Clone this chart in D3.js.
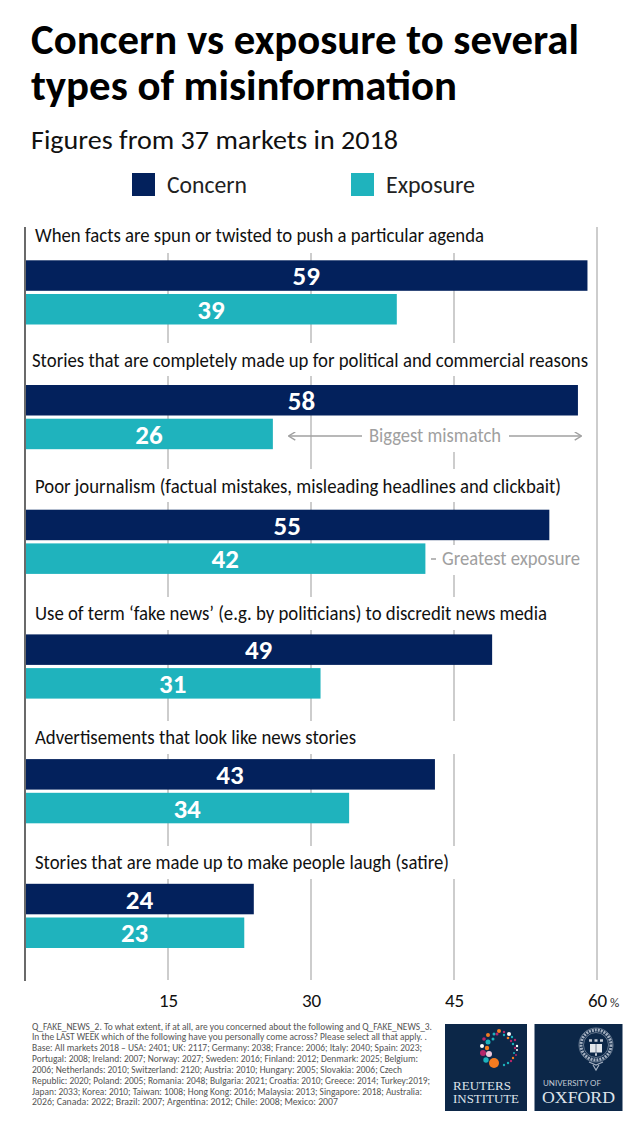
<!DOCTYPE html>
<html><head><meta charset="utf-8">
<script src="https://cdn.jsdelivr.net/npm/d3@7"></script>
<style>html,body{margin:0;padding:0;background:#fff}svg{display:block}text{font-family:Carlito,Calibri,Lato,sans-serif}</style>
</head><body><svg id="c" width="642" height="1128"></svg>
<script>
const categories=["When facts are spun or twisted to push a particular agenda","Stories that are completely made up for political and commercial reasons","Poor journalism (factual mistakes, misleading headlines and clickbait)","Use of term ‘fake news’ (e.g. by politicians) to discredit news media","Advertisements that look like news stories","Stories that are made up to make people laugh (satire)"];
const concern=[59,58,55,49,43,24];
const exposure=[39,26,42,31,34,23];
const tickValues=[15,30,45,60];
const seriesNames=["Concern","Exposure"];
const labelX=[35,32,35,35,35,35];
const labelW=[449,556,526,512,321,414];
const labelBase=[242,367,493,620,744,869];
const footnote=[["Q_FAKE_NEWS_2. To what extent, if at all, are you concerned about the following and Q_FAKE_NEWS_3.",400],["In the LAST WEEK which of the following have you personally come across? Please select all that apply. .",395],["Base: All markets 2018 – USA: 2401; UK: 2117; Germany: 2038; France: 2006; Italy: 2040; Spain: 2023;",390],["Portugal: 2008; Ireland: 2007; Norway: 2027; Sweden: 2016; Finland: 2012; Denmark: 2025; Belgium:",386],["2006; Netherlands: 2010; Switzerland: 2120; Austria: 2010; Hungary: 2005; Slovakia: 2006; Czech",370],["Republic: 2020; Poland: 2005; Romania: 2048; Bulgaria: 2021; Croatia: 2010; Greece: 2014; Turkey:2019;",398],["Japan: 2033; Korea: 2010; Taiwan: 1008; Hong Kong: 2016; Malaysia: 2013; Singapore: 2018; Australia:",390],["2026; Canada: 2022; Brazil: 2007; Argentina: 2012; Chile: 2008; Mexico: 2007",306]];
const NAVY="#03215c",TEAL="#1fb3bd",GRID="#c8c8c8",ANNO="#a0a0a0";

const svg=d3.select("#c");
const x=d3.scaleLinear().domain([0,60]).range([25,597]);
const rowY=d3.scaleLinear().domain([0,5]).range([260.3,883.8]);
const barH=30.5, teamOffset=33.7;
const T=(s,px,py,size,opt={})=>{const t=svg.append("text").attr("x",px).attr("y",py).attr("font-size",size).attr("fill",opt.fill||"#000").attr("font-weight",opt.weight||400).attr("text-anchor",opt.anchor||"start").text(s);
 if(opt.len)t.attr("textLength",opt.len).attr("lengthAdjust","spacingAndGlyphs");return t;};

T("Concern vs exposure to several",31,54,42,{weight:700,len:548});
T("types of misinformation",31,100,42,{weight:700,len:426});
T("Figures from 37 markets in 2018",31,149,27,{len:367,fill:"#111"});
[[132,167,80],[351,386,89]].forEach((p,i)=>{
 svg.append("rect").attr("x",p[0]).attr("y",173).attr("width",23).attr("height",23).attr("fill",i?TEAL:NAVY);
 T(seriesNames[i],p[1],193,24,{len:p[2],fill:"#222"});
});

// grid
svg.append("g").selectAll("line").data(tickValues).join("line")
 .attr("x1",d=>x(d)).attr("x2",d=>x(d)).attr("y1",d=>d==60?227:253).attr("y2",980)
 .attr("stroke",GRID).attr("stroke-width",1.8);
// white bands behind category labels hide the inner gridlines
svg.append("g").selectAll("rect").data(d3.range(1,6)).join("rect")
 .attr("x",x(0)+2).attr("width",x(60)-x(0)-4).attr("y",i=>labelBase[i]-(i<3?24:23)).attr("height",33).attr("fill","#fff");
// gaps behind annotations on the 45 line
svg.append("rect").attr("x",x(45)-3).attr("width",6).attr("y",415).attr("height",37).attr("fill","#fff");
svg.append("rect").attr("x",x(45)-3).attr("width",6).attr("y",545).attr("height",30).attr("fill","#fff");

svg.append("line").attr("x1",x(0)).attr("x2",x(0)).attr("y1",227).attr("y2",981).attr("stroke","#444").attr("stroke-width",1.6);

[[concern,NAVY,0],[exposure,TEAL,1]].forEach(([vals,col,k])=>{
 svg.append("g").selectAll("rect").data(vals).join("rect")
  .attr("x",x(0)+1).attr("y",(d,i)=>rowY(i)+k*teamOffset).attr("width",d=>x(d)-x(0)-1).attr("height",barH).attr("fill",col);
 svg.append("g").selectAll("text").data(vals).join("text")
  .attr("x",d=>(x(0)+x(d))/2).attr("y",(d,i)=>rowY(i)+k*teamOffset+24.8).attr("text-anchor","middle")
  .attr("font-size",27).attr("font-weight",700).attr("fill","#fff").text(d=>d);
});
categories.forEach((c,i)=>T(c,labelX[i],labelBase[i],20,{len:labelW[i],fill:"#111"}));

// annotations
const ay=436;
svg.append("defs").append("marker").attr("id","ah").attr("viewBox","0 0 10 10").attr("refX",9).attr("refY",5).attr("markerWidth",9).attr("markerHeight",9).attr("orient","auto-start-reverse").attr("markerUnits","userSpaceOnUse")
 .append("path").attr("d","M2,0.5L9.5,5L2,9.5").attr("fill","none").attr("stroke",ANNO).attr("stroke-width",1.6);
svg.append("line").attr("x1",289).attr("x2",362).attr("y1",ay).attr("y2",ay).attr("stroke",ANNO).attr("stroke-width",1.5).attr("marker-start","url(#ah)");
svg.append("line").attr("x1",509).attr("x2",581).attr("y1",ay).attr("y2",ay).attr("stroke",ANNO).attr("stroke-width",1.5).attr("marker-end","url(#ah)");
T("Biggest mismatch",369,442,19.5,{fill:ANNO,len:132});
svg.append("line").attr("x1",431).attr("x2",436).attr("y1",559).attr("y2",559).attr("stroke",ANNO).attr("stroke-width",1.5);
T("Greatest exposure",442,565,19.5,{fill:ANNO,len:138});

// axis
const ax=svg.append("g").attr("transform","translate(0,993)").call(d3.axisBottom(x).tickValues(tickValues).tickSize(0).tickPadding(0));
ax.select(".domain").remove();
ax.selectAll("text").attr("font-size",19).attr("fill","#111").attr("y",0).attr("dy","0.71em").style("font-family","Carlito,Calibri,Lato,sans-serif");
T("%",610,1007,13,{fill:"#333"});

// footnote
footnote.forEach((l,i)=>T(l[0],32,1029.5+i*10.85,10,{fill:"#555",len:l[1]}));

// logos
svg.append("rect").attr("x",445).attr("y",1024).attr("width",82).attr("height",87).attr("fill","#0c2748");
svg.append("rect").attr("x",534.5).attr("y",1024).attr("width",88).attr("height",87).attr("fill","#0c2748");
const dotColors=["#f47b20","#1cb2bd","#f0c8dc","#b5266b","#ffffff"];
const logoDots=[[494,1063,5,0],[486,1060,2.7,1],[489,1054,3,2],[483,1053,3,3],[487,1048,2.2,0],[482,1046,2,4],[488,1042,2.5,1],[484,1039,1.8,3],[493,1039,1.5,1],[488,1035,2,0],[494,1034,1.5,1],[499,1031,2,0],[497,1034,1.5,3],[504,1032,1.2,3],[509,1034,2,4],[504,1035,1.2,1],[508,1038,1.3,0],[512,1037,1.2,1],[515,1040,1.2,3],[511,1041,1.2,3],[513,1044,1.2,1],[517,1046,1.2,4],[515,1048,1.2,3],[517,1050,1,4],[514,1053,1,1],[516,1055,1,3],[513,1058,1.2,0],[511,1061,1.2,3],[508,1063,1.2,1],[504,1065,1.2,1]];
svg.append("g").selectAll("circle").data(logoDots).join("circle").attr("cx",d=>d[0]).attr("cy",d=>d[1]).attr("r",d=>d[2]).attr("fill",d=>dotColors[d[3]]);
const S="Liberation Serif";
T("REUTERS",453,1090,13,{fill:"#dfe4ea",len:58}).style("font-family",S);
T("INSTITUTE",453,1103,13,{fill:"#dfe4ea",len:66}).style("font-family",S);
T("UNIVERSITY OF",543,1086,7.5,{fill:"#c5ccd6",len:58}).style("font-family","Lato");
T("OXFORD",542,1103,16.5,{fill:"#dfe4ea",len:73}).style("font-family",S);
const seal=svg.append("g").attr("fill","none");
seal.append("circle").attr("cx",596).attr("cy",1045).attr("r",15).attr("stroke","#a3afc0").attr("stroke-width",3).attr("stroke-dasharray","2 1");
seal.append("circle").attr("cx",596).attr("cy",1045).attr("r",17).attr("stroke","#8b99ac").attr("stroke-width",.7);
seal.append("circle").attr("cx",596).attr("cy",1045).attr("r",12.5).attr("stroke","#8b99ac").attr("stroke-width",.7);
seal.append("rect").attr("x",590).attr("y",1044).attr("width",12).attr("height",8.5).attr("fill","#e3e7ec");
seal.append("path").attr("d","M596,1044v8.5").attr("stroke","#54657d").attr("stroke-width",.8);
seal.append("path").attr("d","M589,1040.5h3M594.5,1040.5h3M600,1040.5h3M595,1054.5h2").attr("stroke","#c5ccd6").attr("stroke-width",2.5);
seal.append("path").attr("d","M589,1062l7,3l7,-3M593,1065l3,5l3,-5").attr("stroke","#a3afc0").attr("stroke-width",1.2);
</script></body></html>
